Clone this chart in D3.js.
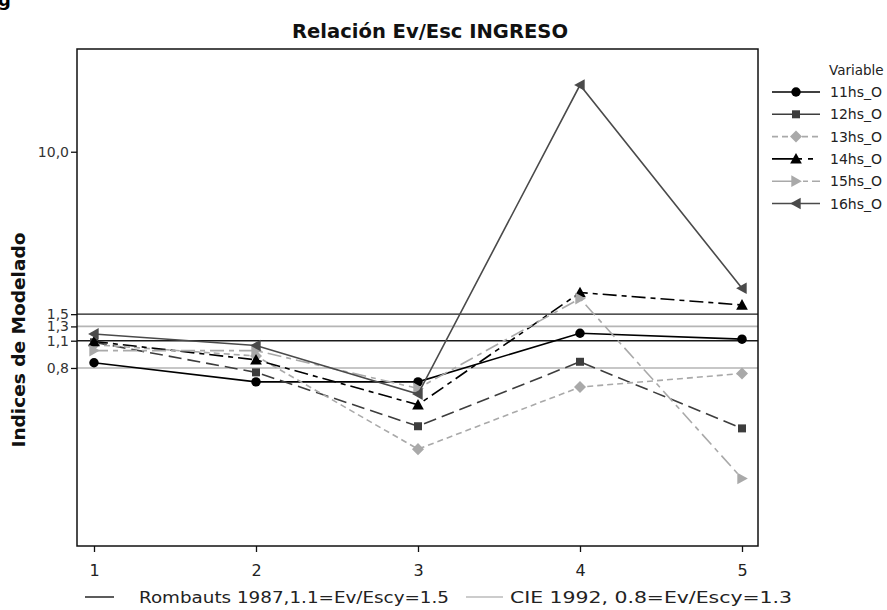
<!DOCTYPE html>
<html>
<head>
<meta charset="utf-8">
<script src="https://cdn.jsdelivr.net/npm/d3@7"></script>
<style>
  html, body { margin: 0; padding: 0; background: #fff; }
  svg { display: block; }
</style>
</head>
<body>
<div id="chart"></div>
<script>
// ---------- data ----------
const xCats = [1, 2, 3, 4, 5];
const seriesNames = ["11hs_O", "12hs_O", "13hs_O", "14hs_O", "15hs_O", "16hs_O"];
const s11 = [0.85, 0.68, 0.68, 1.20, 1.12];
const s12 = [1.08, 0.76, 0.405, 0.86, 0.395];
const s13 = [1.05, 0.92, 0.31, 0.64, 0.75];
const s14 = [1.09, 0.88, 0.52, 1.93, 1.67];
const s15 = [0.98, 0.98, 0.63, 1.80, 0.22];
const s16 = [1.19, 1.04, 0.59, 21.8, 2.03];
const yTickValues = [0.8, 1.1, 1.3, 1.5, 10];
const yTickLabels = ["0,8", "1,1", "1,3", "1,5", "10,0"];
const refRombauts = [1.1, 1.5];
const refCIE = [0.8, 1.3];
const refLabels = ["Rombauts 1987,1.1=Ev/Escy=1.5", "CIE 1992, 0.8=Ev/Escy=1.3"];
const title = "Relación Ev/Esc INGRESO";
const yTitle = "Indices de Modelado";

// ---------- styles ----------
const seriesValues = [s11, s12, s13, s14, s15, s16];
const styles = [
  { color: "#000000", dash: null,          marker: "circle",   size: 70 },
  { color: "#3d3d3d", dash: "13,6",        marker: "square",   size: 64 },
  { color: "#a9a9a9", dash: "6,4",         marker: "diamond",  size: 70 },
  { color: "#000000", dash: "14,5,5,5",    marker: "triUp",    size: 70 },
  { color: "#a9a9a9", dash: "14,5,5,5",    marker: "triRight", size: 70 },
  { color: "#4a4a4a", dash: null,          marker: "triLeft",  size: 70 }
];

const W = 887, H = 610;
const frame = { left: 77, right: 758, top: 49, bottom: 546 };

const svg = d3.select("#chart").append("svg")
  .attr("width", W).attr("height", H)
  .style("font-family", "'DejaVu Sans', Verdana, sans-serif");

const x = d3.scaleLinear().domain([1, 5]).range([94, 742]);
const y = d3.scaleLog().domain([0.1, 33.2]).range([frame.bottom, frame.top]);

// stray glyph at the top-left corner
svg.append("text").attr("x", -2).attr("y", 6)
  .style("font-size", "18px").style("font-weight", "bold").attr("fill", "#000").text("g");

// title
svg.append("text")
  .attr("x", 430).attr("y", 38)
  .attr("text-anchor", "middle")
  .style("font-family", "'DejaVu Sans Condensed', 'DejaVu Sans', sans-serif")
  .style("font-weight", "bold").style("font-size", "20px")
  .attr("textLength", 276).attr("lengthAdjust", "spacingAndGlyphs")
  .attr("fill", "#111")
  .text(title);

// y title
svg.append("text")
  .attr("transform", "translate(25,340) rotate(-90)")
  .attr("text-anchor", "middle")
  .style("font-weight", "bold").style("font-size", "17px")
  .attr("textLength", 215).attr("lengthAdjust", "spacingAndGlyphs")
  .attr("fill", "#111")
  .text(yTitle);

// reference lines
const refG = svg.append("g");
refCIE.forEach(v => {
  refG.append("line")
    .attr("x1", frame.left).attr("x2", frame.right)
    .attr("y1", y(v)).attr("y2", y(v))
    .attr("stroke", "#b5b5b5").attr("stroke-width", 1.6);
});
refRombauts.forEach(v => {
  refG.append("line")
    .attr("x1", frame.left).attr("x2", frame.right)
    .attr("y1", y(v)).attr("y2", y(v))
    .attr("stroke", "#1a1a1a").attr("stroke-width", 1.4);
});

// frame
svg.append("rect")
  .attr("x", frame.left).attr("y", frame.top)
  .attr("width", frame.right - frame.left).attr("height", frame.bottom - frame.top)
  .attr("fill", "none").attr("stroke", "#111").attr("stroke-width", 1.5);

// axes
const xAxis = d3.axisBottom(x).tickValues(xCats).tickFormat(d3.format("d")).tickSizeOuter(0).tickSize(6);
const xg = svg.append("g").attr("transform", `translate(0,${frame.bottom})`).call(xAxis);
xg.select(".domain").remove();
xg.selectAll("line").attr("stroke", "#111").attr("stroke-width", 1.3);
xg.selectAll("text").style("font-size", "16px").attr("fill", "#222").attr("dy", "1.3em")
  .style("font-family", "'DejaVu Sans', sans-serif");

const yAxis = d3.axisLeft(y).tickValues(yTickValues)
  .tickFormat((d, i) => yTickLabels[i]).tickSizeOuter(0).tickSize(6);
const yg = svg.append("g").attr("transform", `translate(${frame.left},0)`).call(yAxis);
yg.select(".domain").remove();
yg.selectAll("line").attr("stroke", "#111").attr("stroke-width", 1.3);
yg.selectAll("text").style("font-size", "14px").attr("fill", "#333").attr("x", -8)
  .style("font-family", "'DejaVu Sans', sans-serif");

// marker symbol generator
function markerPath(type, size) {
  const s = Math.sqrt(size);
  if (type === "circle") return d3.symbol(d3.symbolCircle, size)();
  if (type === "square") return d3.symbol(d3.symbolSquare, size)();
  if (type === "diamond") {
    const r = s * 0.72;
    return `M0,${-r}L${r},0L0,${r}L${-r},0Z`;
  }
  const r = s * 0.7;
  if (type === "triUp") return `M0,${-r}L${r},${r * 0.8}L${-r},${r * 0.8}Z`;
  if (type === "triRight") return `M${r},0L${-r * 0.8},${-r}L${-r * 0.8},${r}Z`;
  if (type === "triLeft") return `M${-r},0L${r * 0.8},${-r}L${r * 0.8},${r}Z`;
  return "";
}

// series
const line = d3.line().x((d, i) => x(xCats[i])).y(d => y(d));
seriesValues.forEach((vals, k) => {
  const st = styles[k];
  const g = svg.append("g");
  g.append("path").datum(vals)
    .attr("d", line)
    .attr("fill", "none").attr("stroke", st.color).attr("stroke-width", 1.6)
    .attr("stroke-dasharray", st.dash);
  g.selectAll("path.m").data(vals).join("path").attr("class", "m")
    .attr("transform", (d, i) => `translate(${x(xCats[i])},${y(d)})`)
    .attr("d", markerPath(st.marker, st.size))
    .attr("fill", st.color);
});

// legend (right)
const lg = svg.append("g");
lg.append("text").attr("x", 829).attr("y", 75)
  .style("font-size", "13.5px").attr("fill", "#222").text("Variable");
seriesNames.forEach((name, k) => {
  const st = styles[k];
  const yy = 92 + k * 22.3;
  lg.append("line").attr("x1", 772).attr("x2", 820).attr("y1", yy).attr("y2", yy)
    .attr("stroke", st.color).attr("stroke-width", 1.6)
    .attr("stroke-dasharray", k === 1 ? null : (k === 3 ? "30,6,5,10" : (k === 4 ? "27,4,5,4" : st.dash)));
  lg.append("path").attr("transform", `translate(796,${yy})`)
    .attr("d", markerPath(st.marker, st.size)).attr("fill", st.color);
  lg.append("text").attr("x", 830).attr("y", yy + 5)
    .style("font-size", "14px").attr("fill", "#222").text(name);
});

// legend (bottom)
const bl = svg.append("g");
bl.append("line").attr("x1", 85).attr("x2", 114).attr("y1", 597).attr("y2", 597)
  .attr("stroke", "#333").attr("stroke-width", 1.6);
bl.append("text").attr("x", 139).attr("y", 603)
  .style("font-size", "16px").attr("fill", "#222")
  .attr("textLength", 310).attr("lengthAdjust", "spacingAndGlyphs")
  .text(refLabels[0]);
bl.append("line").attr("x1", 466).attr("x2", 503).attr("y1", 597).attr("y2", 597)
  .attr("stroke", "#bbb").attr("stroke-width", 1.6);
bl.append("text").attr("x", 510).attr("y", 603)
  .style("font-size", "16px").attr("fill", "#222")
  .attr("textLength", 282).attr("lengthAdjust", "spacingAndGlyphs")
  .text(refLabels[1]);
</script>
</body>
</html>
